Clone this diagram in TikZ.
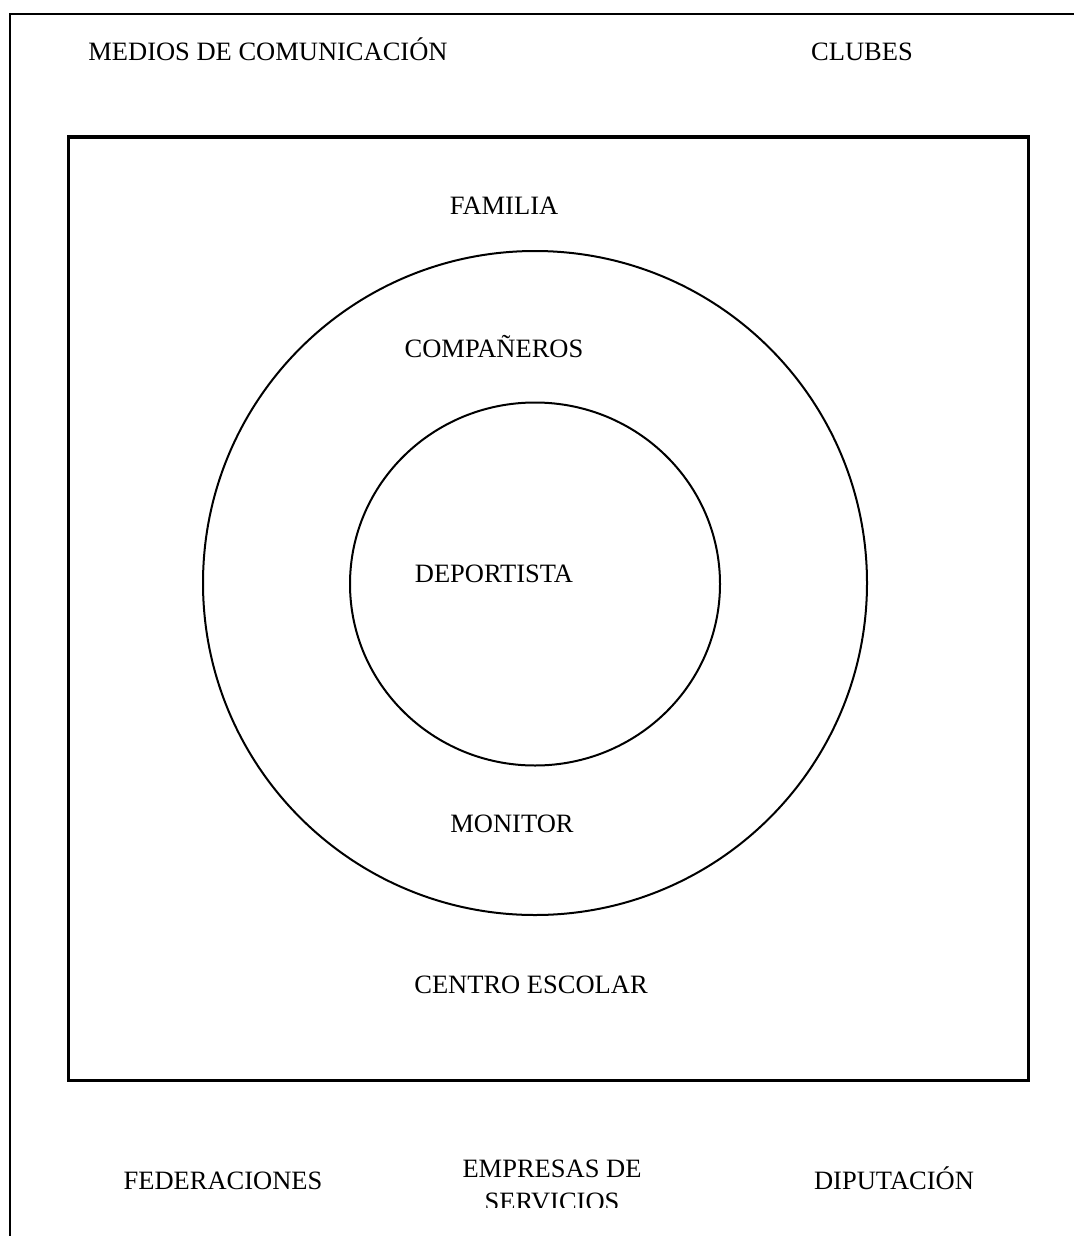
\documentclass[tikz,border=0pt]{standalone}
\usepackage{fontspec}
\setmainfont{Liberation Serif}
\usetikzlibrary{shapes.geometric}
\begin{document}
\begin{tikzpicture}[x=1pt,y=-1pt,
  lbl/.style={inner sep=0pt, anchor=base, font=\fontsize{26.5}{33}\selectfont},
  frame/.style={line width=2pt},
  box/.style={line width=3pt},
  ring/.style={line width=2pt}]
\useasboundingbox (0,0) rectangle (1074,1236);
\fill[white] (0,0) rectangle (1074,1236);
% outer frame (left and top edges only)
\coordinate (ftl) at (10,14);
\coordinate (fbl) at (10,1236);
\coordinate (ftr) at (1074,14);
\draw[frame] (fbl) -- (ftl) -- (ftr);
% inner box
\draw[box] (68,137) rectangle (1028,1080);
% circles
\node[ring, draw, circle, minimum size=664pt, inner sep=0pt] (outer) at (535,583) {};
\node[ring, draw, ellipse, minimum width=370pt, minimum height=363pt, inner sep=0pt] (inner) at (535,584) {};
% labels
\node[lbl] (medios) at (268,61) {MEDIOS DE COMUNICACIÓN};
\node[lbl] (clubes) at (862,61) {CLUBES};
\node[lbl] (familia) at (504,214) {FAMILIA};
\node[lbl] (comp) at (494,357) {COMPAÑEROS};
\node[lbl] (dep) at (494,582) {DEPORTISTA};
\node[lbl] (monitor) at (512,832) {MONITOR};
\node[lbl] (centro) at (531,993) {CENTRO ESCOLAR};
\node[lbl] (fed) at (223,1189) {FEDERACIONES};
\node[lbl] (dip) at (894,1189) {DIPUTACIÓN};
\begin{scope}
\clip (440,1140) rectangle (670,1207);
\node[inner sep=0pt, anchor=north, align=center, font=\fontsize{26.5}{33}\selectfont] (empresas) at (552,1159.5) {EMPRESAS DE\\SERVICIOS};
\end{scope}
\end{tikzpicture}
\end{document}
